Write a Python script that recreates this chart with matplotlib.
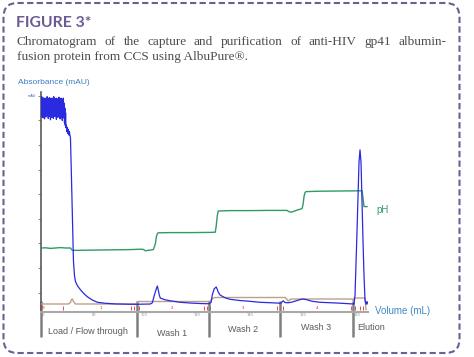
import numpy as np
import matplotlib
matplotlib.use("Agg")
import matplotlib.pyplot as plt
from matplotlib.patches import FancyBboxPatch
from matplotlib.transforms import IdentityTransform

W, H = 474, 357

# --- absorbance (mAU) vs volume (mL) ---
# noisy UV plateau while loading (detector saturated)
load_mau = [4150, 3880, 4230, 3820, 4100, 3950, 4220, 3800, 4180, 3900,
            4050, 3780, 4200, 3870, 4120, 3820, 4180, 3960, 4230, 3850,
            4080, 3790, 4190, 3900, 4210, 3830, 4140, 3760, 4200, 3880,
            4060, 3810, 4200, 3940, 4170, 3790, 4230, 3860, 4110, 3830,
            4190, 3900, 4160, 3770, 4200, 3850, 4090, 3810, 4180, 3920,
            4220, 3840, 4130, 3780, 4190, 3880, 4200, 3820, 4070, 3750,
            4180, 3860, 4200, 3800, 4100, 3700, 4000, 3650, 3900, 3600]
load_vol = np.linspace(0, 25.5, len(load_mau))

rest_vol = [26, 26.5, 27, 27.5, 28, 28.5, 29, 29.5, 30, 31, 32, 33, 34, 35, 37, 40,
            43, 47, 52, 57, 65, 75, 90, 97,
            110, 112, 114, 116, 117, 118, 119, 120, 125, 130, 140, 150, 160, 169,
            171, 172, 174, 176, 177, 178, 180, 185, 190, 200, 207, 220, 237, 240,
            241, 243, 245, 248, 252, 256, 260, 263, 267, 272, 280, 297, 310, 314,
            315, 317, 319, 320, 321, 322, 323, 324, 325, 326, 327, 328]
rest_mau = [3650, 3520, 3600, 3480, 3560, 3450, 3520, 3440, 3400, 2600, 1700, 900, 600, 480, 390, 310,
            240, 165, 100, 55, 35, 22, 15, 15,
            20, 45, 200, 330, 386, 300, 200, 140, 105, 85, 55, 40, 30, 25,
            60, 200, 330, 366, 320, 260, 200, 145, 115, 90, 80, 55, 40, 35,
            40, 85, 50, 45, 60, 85, 110, 122, 105, 75, 55, 40, 25, 20,
            200, 1500, 2900, 3150, 2900, 2100, 1300, 600, 100, 15, 70, 20]

# --- pH ---
ph_vol = [0, 5, 10, 15, 20, 25, 30, 32, 45, 60, 75, 90, 100, 103, 105, 110, 113,
          115, 116, 117, 118, 130, 150, 170, 175, 176, 177, 178, 190, 210, 230,
          247, 249, 252, 256, 260, 262, 263, 264, 265, 266, 280, 300, 322, 323, 324, 327]
ph_val = [7.0, 7.01, 6.98, 7.0, 7.02, 7.0, 7.0, 6.88, 6.89, 6.9, 6.91, 6.92, 6.94, 6.93, 6.86, 6.9, 6.92,
          7.2, 7.55, 7.72, 7.76, 7.77, 7.77, 7.78, 7.79, 8.1, 8.6, 8.85, 8.87, 8.87, 8.88,
          8.88, 8.81, 8.8, 8.88, 8.94, 8.97, 9.2, 9.6, 9.78, 9.82, 9.84, 9.85, 9.86, 9.5, 9.07, 9.07]

# --- conductivity ---
cond_vol = [0, 28, 30, 31, 32, 33, 35, 96, 97, 98, 168, 170, 172, 175, 245, 247, 248,
            250, 252, 312, 313, 314, 324, 325, 326]
cond_val = [7.5, 7.5, 9, 12, 12.5, 10, 7.5, 7.5, 9, 10, 10, 10.5, 13, 14, 14, 12, 10.5,
            12, 12.5, 12.5, 11, 13.5, 13.5, 13.5, 2]

# phases
phase_edges = [0, 97, 169, 240, 313]
phase_names = ["Load / Flow through", "Wash 1", "Wash 2", "Wash 3", "Elution"]
phase_label_x = [48, 132, 203, 276, 317]
phase_label_y = [-0.089, -0.098, -0.080, -0.075, -0.075]

# fraction marks
frac_tick_vol = [23, 91, 94, 97, 99, 164, 167, 170, 237, 240, 243, 311, 315, 320, 323]
frac_num_vol = [3, 60, 132, 203, 277]
frac_num_lbl = ["F3", "1", "2", "3", "4"]

vol_ticks = [3, 54, 104, 157, 210, 263, 317]
vol_tick_lbl = ["60", "80", "100", "120", "140", "160", "180"]
mau_ticks = list(range(250, 4300, 500))

fig = plt.figure(figsize=(W / 100, H / 100), dpi=100)
fig.patch.set_facecolor("white")


def fx(px):
    return px / W


def fy(py):
    return 1 - py / H


# dashed frame
frame = FancyBboxPatch((3.5, 4), 456, 350, boxstyle="round,pad=0,rounding_size=14",
                       transform=IdentityTransform(), fill=False, edgecolor="#6b5f96",
                       linewidth=1.5, linestyle=(0, (3, 1.6)))
fig.add_artist(frame)

fig.text(fx(16.5), fy(26.7), "FIGURE 3*", fontsize=11.3, color="#6b5a94",
         family="Lato", weight="bold", va="baseline", ha="left")

cap_kw = dict(fontsize=9.5, color="#4d4d4d", family="Liberation Serif",
              va="baseline", ha="left")
renderer = fig.canvas.get_renderer()


def justified(line, x0, x1, y):
    words = line.split()
    arts = [fig.text(0, 0, w, **cap_kw) for w in words]
    widths = [a.get_window_extent(renderer).width for a in arts]
    gap = (x1 - x0 - sum(widths)) / (len(words) - 1)
    x = x0
    for a, w in zip(arts, widths):
        a.set_position((fx(x), fy(y)))
        x += w + gap


justified("Chromatogram of the capture and purification of anti-HIV gp41 albumin-", 16.7, 446.7, 45)
fig.text(fx(16.7), fy(60), "fusion protein from CCS using AlbuPure\u00ae.", **cap_kw)

fig.text(fx(18), fy(83.5), "Absorbance (mAU)", fontsize=6, color="#3a7fc1",
         family="Liberation Sans", va="baseline")
fig.text(fx(375), fy(311), "Volume (mL)", fontsize=7, color="#3f88c5",
         family="Liberation Sans", va="center")
fig.text(fx(376), fy(210), "pH", fontsize=7, color="#3a9a6a",
         family="Liberation Sans", va="center")

ax = fig.add_axes([fx(40.5), 1 - 311.5 / H, 327.5 / W, 219.5 / H])
ax.set_xlim(0, 328)
ax.set_ylim(-132, 4325)
for s in ["top", "right"]:
    ax.spines[s].set_visible(False)
ax.spines["left"].set_color("#5a5a5a")
ax.spines["left"].set_linewidth(1.2)
ax.spines["bottom"].set_color("#a8a8a8")
ax.spines["bottom"].set_linewidth(1.5)
ax.set_yticks(mau_ticks)
ax.set_yticklabels([""] * (len(mau_ticks) - 1) + ["mAU"])
ax.tick_params(axis="y", length=2, width=0.6, color="#777777", labelsize=2.5,
               labelcolor="#3a5fc1", pad=1)
ax.set_xticks(vol_ticks)
ax.set_xticklabels(vol_tick_lbl)
ax.tick_params(axis="x", length=0, labelsize=2.5, labelcolor="#888888", pad=1)

ax_c = ax.twinx()
ax_c.set_ylim(0, 219.5)
ax_c.axis("off")
ax_c.plot(cond_vol, cond_val, color="#bf9f88", lw=1.0)

ax_ph = ax.twinx()
ax_ph.set_ylim(3.825, 14.8)
ax_ph.axis("off")
ax_ph.plot(ph_vol, ph_val, color="#339966", lw=1.0)

ax_a = ax.twinx()
ax_a.set_ylim(-132, 4325)
ax_a.axis("off")
ax_a.plot(list(load_vol) + rest_vol, load_mau + rest_mau, color="#2a2ae0", lw=0.9)

# fraction marks
ax.plot(frac_tick_vol, [-60] * len(frac_tick_vol), ls="none", marker="|",
        markersize=2.5, mew=0.6, color="#e03030", clip_on=False)
for v, t in zip(frac_num_vol, frac_num_lbl):
    ax.text(v, -70, t, fontsize=2.8, color="#e02020", ha="center", va="center")

# phase dividers
ax.vlines(phase_edges, -0.116, 0.048, transform=ax.get_xaxis_transform(),
          colors="#7f7f7f", lw=1.8, clip_on=False)
for name, x, y in zip(phase_names, phase_label_x, phase_label_y):
    ax.text(x, y, name, transform=ax.get_xaxis_transform(), fontsize=6.5,
            color="#595959", family="Liberation Sans",
            ha="left" if name == "Elution" else "center", va="center")

fig.savefig("out.png", dpi=100, facecolor="white")
